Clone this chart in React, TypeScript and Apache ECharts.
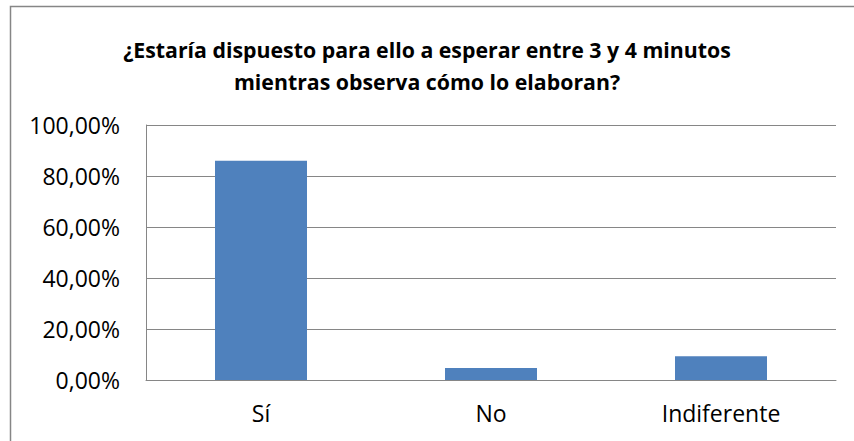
import React, { useEffect, useRef } from "react";
import * as echarts from "echarts";

const categories = ["Sí", "No", "Indiferente"];
const values = [86.0, 4.7, 9.3];
const yTicks = [0, 20, 40, 60, 80, 100];

const titleText = "¿Estaría dispuesto para ello a esperar entre 3 y 4 minutos\nmientras observa cómo lo elaboran?";

export default function App() {
  const ref = useRef<HTMLDivElement>(null);
  useEffect(() => {
    if (!ref.current) return;
    const chart = echarts.init(ref.current, null, { renderer: "svg" });
    const font = "'Open Sans', 'Liberation Sans', sans-serif";
    chart.setOption({
      animation: false,
      backgroundColor: "#ffffff",
      title: {
        text: titleText,
        left: "center",
        top: 28,
        textStyle: {
          fontFamily: font,
          fontWeight: "bold",
          fontSize: 21.3,
          lineHeight: 32,
          color: "#000000",
        },
      },
      graphic: [
        {
          type: "rect",
          shape: { x: 10.5, y: 6.5, width: 900, height: 500 },
          style: { fill: "none", stroke: "#868686", lineWidth: 1.5 },
          silent: true,
        },
      ],
      grid: { left: 146, top: 125, right: 18, bottom: 61 },
      xAxis: {
        type: "category",
        data: categories,
        axisLine: { show: true, lineStyle: { color: "#868686", width: 1 } },
        axisTick: { show: false },
        axisLabel: {
          fontFamily: font,
          fontSize: 23,
          color: "#000000",
          margin: 21,
        },
      },
      yAxis: {
        type: "value",
        min: 0,
        max: yTicks[yTicks.length - 1],
        interval: yTicks[1] - yTicks[0],
        axisLine: { show: true, lineStyle: { color: "#868686", width: 1 } },
        axisTick: { show: false },
        splitLine: { show: true, lineStyle: { color: "#868686", width: 1 } },
        axisLabel: {
          fontFamily: font,
          fontSize: 23,
          color: "#000000",
          margin: 26,
          formatter: (v: number) => v.toFixed(2).replace(".", ",") + "%",
        },
      },
      series: [
        {
          type: "bar",
          data: values,
          barWidth: "40%",
          itemStyle: { color: "#4F81BD" },
        },
      ],
    });
    return () => chart.dispose();
  }, []);
  return (
    <div
      ref={ref}
      style={{ position: "absolute", left: 0, top: 0, width: 854, height: 441 }}
    />
  );
}
